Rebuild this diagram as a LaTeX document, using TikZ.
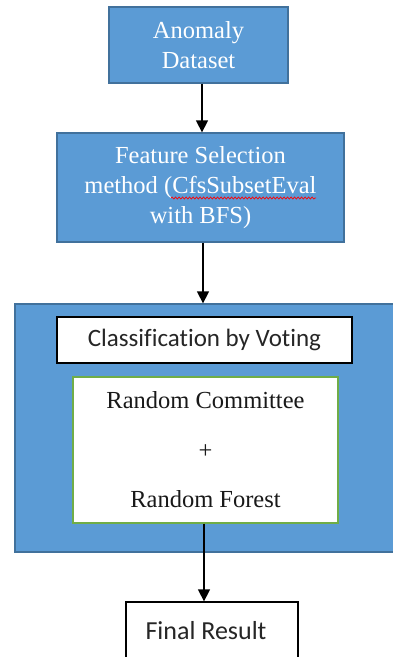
\documentclass[tikz,border=0pt]{standalone}
\usepackage{fontspec}
\setmainfont{Liberation Serif}
\newfontfamily\calfont[Ligatures=CommonOff]{Carlito}
\usetikzlibrary{arrows.meta,decorations.pathmorphing}
\definecolor{bfill}{HTML}{5B9BD5}
\definecolor{bdraw}{HTML}{41719C}
\definecolor{gdraw}{HTML}{70AD47}
\begin{document}
\begin{tikzpicture}[x=1pt,y=-1pt,
  bluebox/.style={draw=bdraw,fill=bfill,line width=1.3pt,text=white,align=center,
    font=\fontsize{24.5}{30}\selectfont,inner sep=0pt},
  whitebox/.style={draw=black,fill=white,line width=1.3pt,inner sep=0pt,
    font=\calfont\fontsize{25}{28}\selectfont,text=black!85},
  greenbox/.style={draw=gdraw,fill=white,line width=1.3pt,inner sep=0pt,align=center,
    font=\fontsize{24.5}{49.5}\selectfont,text=black!90},
  arr/.style={line width=1.4pt,-{Triangle[width=12pt,length=12pt]}}]
\useasboundingbox (0,0) rectangle (393,657);
\clip (0,0) rectangle (393,657);
\fill[white] (0,0) rectangle (393,657);
\coordinate (ax1) at (202,0);
\coordinate (ax2) at (203,0);
\coordinate (ax3) at (204,0);
\node[bluebox,minimum width=179pt,minimum height=76pt] (b1) at (198.5,45) {Anomaly\\Dataset};
\node[bluebox,minimum width=287pt,minimum height=109pt] (b2) at (200.5,187.5) {Feature Selection\\method (CfsSubsetEval\\with BFS)};
\draw[red,line width=0.7pt,decorate,decoration={snake,amplitude=1pt,segment length=3.5pt}] (171,198) -- (316,198);
\node[bluebox,minimum width=385pt,minimum height=248pt] (big) at (207.5,428) {};
\node[whitebox,minimum width=295pt,minimum height=46pt] (cls) at (204.5,340) {Classification by Voting};
\node[greenbox,minimum width=265pt,minimum height=146pt] (ens) at (205.5,450) {Random Committee\\+\\Random Forest};
\node[whitebox,minimum width=172pt,minimum height=58pt,font=\calfont\fontsize{26}{28}\selectfont] (fin) at (212,631) {\hspace*{-12pt}Final Result};
\draw[arr] (b1.south -| ax1) -- (b2.north -| ax1);
\draw[arr] (b2.south -| ax2) -- (big.north -| ax2);
\draw[arr] (ens.south -| ax3) -- (fin.north -| ax3);
\end{tikzpicture}
\end{document}
